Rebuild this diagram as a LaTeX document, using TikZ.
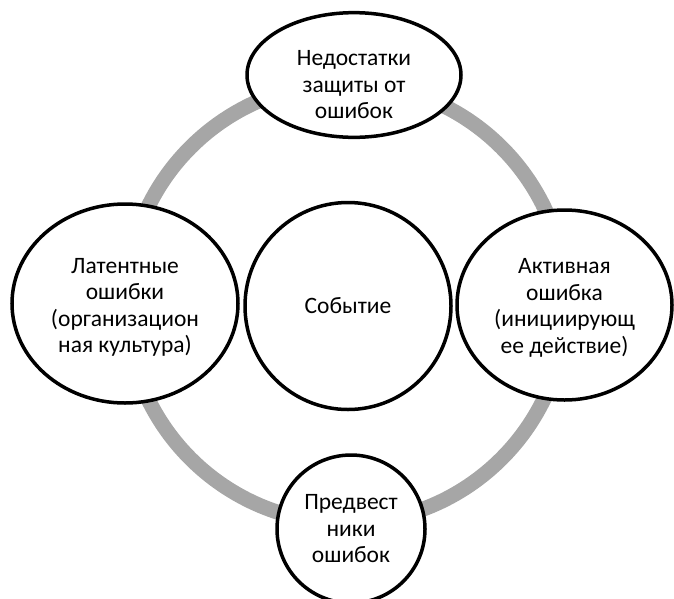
\documentclass[tikz,border=0pt]{standalone}
\usepackage{fontspec}
\setmainfont{Carlito}
\usetikzlibrary{shapes.geometric}
\definecolor{ringgray}{HTML}{A6A6A6}
\newcommand{\pushdown}[1]{\rule{0pt}{#1}}
\begin{document}
\begin{tikzpicture}[x=1pt,y=-1pt,
  bubble/.style={ellipse, draw=black, line width=3.5pt, fill=white, inner sep=0pt,
    align=center, font=\fontsize{23.5}{26.5}\selectfont},
  ringstyle/.style={draw=ringgray, line width=15pt}]
\useasboundingbox (0,0) rectangle (674,598);
\clip (0,0) rectangle (674,598);
\coordinate (hub) at (346,303);
\draw[ringstyle] (hub) circle[radius=220pt];
\node[bubble, minimum width=214, minimum height=123] (topn) at (354,75) {\pushdown{35pt}Недостатки\\защиты от\\ошибок};
\node[bubble, minimum width=226, minimum height=199] (leftn) at (125,303.5) {\pushdown{23pt}Латентные\\ошибки\\(организацион\\ная культура)};
\node[bubble, minimum width=215, minimum height=190] (rightn) at (564.5,305) {\pushdown{21pt}Активная\\ошибка\\(инициирующ\\ее действие)};
\node[bubble, minimum width=148, minimum height=148] (bottomn) at (351,529) {Предвест\\ники\\ошибок};
\node[bubble, minimum width=206, minimum height=207] (centern) at (348,306) {Событие};
\end{tikzpicture}
\end{document}
